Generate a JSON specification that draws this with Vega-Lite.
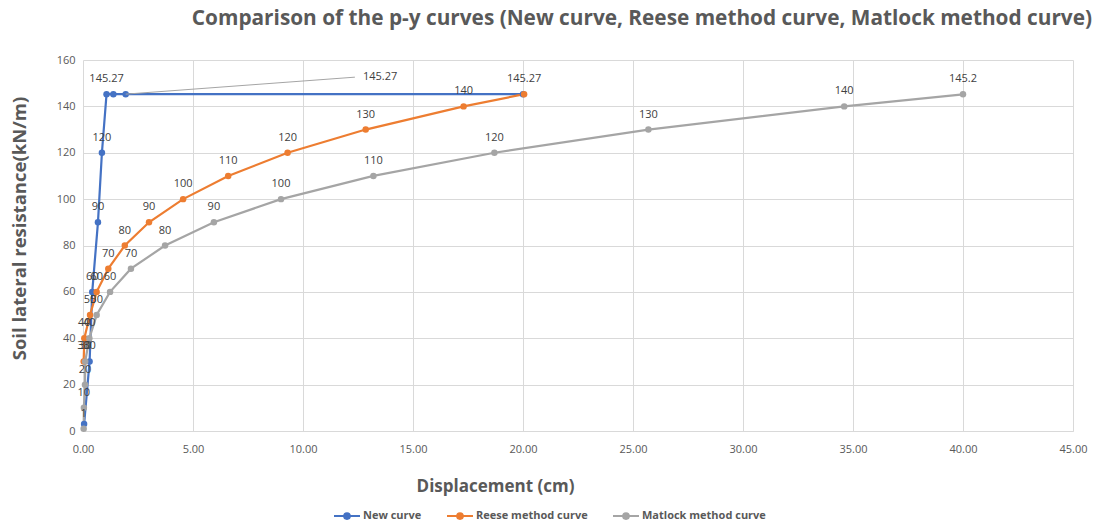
{
  "$schema": "https://vega.github.io/schema/vega-lite/v6.json",
  "autosize": {"type": "none"},
  "width": 990,
  "height": 371,
  "padding": {"left": 83, "top": 60, "right": 24, "bottom": 93},
  "background": "white",
  "title": {
    "text": "Comparison of the p-y curves (New curve, Reese method curve, Matlock method curve)",
    "font": "Open Sans",
    "fontSize": 20.8,
    "fontWeight": "bold",
    "color": "#595959",
    "anchor": "end",
    "frame": "group",
    "dx": 19,
    "offset": 24
  },
  "config": {
    "view": {"stroke": null},
    "scale": {"continuousPadding": 0},
    "axis": {
      "labelFont": "Open Sans",
      "labelFontSize": 11,
      "labelColor": "#595959",
      "labelFlush": false,
      "titleFont": "Open Sans",
      "titleFontSize": 17,
      "titleFontWeight": "bold",
      "titleColor": "#595959",
      "gridColor": "#d9d9d9",
      "ticks": false
    }
  },
  "datasets": {
    "curves": [
      {"series": "New curve", "x": 0.05, "y": 3, "label": ""},
      {"series": "New curve", "x": 0.3, "y": 30, "label": "30"},
      {"series": "New curve", "x": 0.42, "y": 60, "label": "60"},
      {"series": "New curve", "x": 0.68, "y": 90, "label": "90"},
      {"series": "New curve", "x": 0.86, "y": 120, "label": "120"},
      {"series": "New curve", "x": 1.07, "y": 145.27, "label": "145.27"},
      {"series": "New curve", "x": 1.38, "y": 145.27, "label": ""},
      {"series": "New curve", "x": 1.94, "y": 145.27, "label": ""},
      {"series": "New curve", "x": 20.0, "y": 145.27, "label": ""},
      {"series": "Reese method curve", "x": 0.03, "y": 30, "label": "30"},
      {"series": "Reese method curve", "x": 0.06, "y": 40, "label": "40"},
      {"series": "Reese method curve", "x": 0.32, "y": 50, "label": "50"},
      {"series": "Reese method curve", "x": 0.62, "y": 60, "label": "60"},
      {"series": "Reese method curve", "x": 1.15, "y": 70, "label": "70"},
      {"series": "Reese method curve", "x": 1.9, "y": 80, "label": "80"},
      {"series": "Reese method curve", "x": 3.0, "y": 90, "label": "90"},
      {"series": "Reese method curve", "x": 4.55, "y": 100, "label": "100"},
      {"series": "Reese method curve", "x": 6.6, "y": 110, "label": "110"},
      {"series": "Reese method curve", "x": 9.3, "y": 120, "label": "120"},
      {"series": "Reese method curve", "x": 12.85, "y": 130, "label": "130"},
      {"series": "Reese method curve", "x": 17.3, "y": 140, "label": "140"},
      {"series": "Reese method curve", "x": 20.05, "y": 145.27, "label": "145.27"},
      {"series": "Matlock method curve", "x": 0.03, "y": 1, "label": "1"},
      {"series": "Matlock method curve", "x": 0.04, "y": 10, "label": "10"},
      {"series": "Matlock method curve", "x": 0.09, "y": 20, "label": "20"},
      {"series": "Matlock method curve", "x": 0.1, "y": 30, "label": "30"},
      {"series": "Matlock method curve", "x": 0.29, "y": 40, "label": "40"},
      {"series": "Matlock method curve", "x": 0.62, "y": 50, "label": "50"},
      {"series": "Matlock method curve", "x": 1.23, "y": 60, "label": "60"},
      {"series": "Matlock method curve", "x": 2.18, "y": 70, "label": "70"},
      {"series": "Matlock method curve", "x": 3.73, "y": 80, "label": "80"},
      {"series": "Matlock method curve", "x": 5.95, "y": 90, "label": "90"},
      {"series": "Matlock method curve", "x": 9.0, "y": 100, "label": "100"},
      {"series": "Matlock method curve", "x": 13.2, "y": 110, "label": "110"},
      {"series": "Matlock method curve", "x": 18.7, "y": 120, "label": "120"},
      {"series": "Matlock method curve", "x": 25.7, "y": 130, "label": "130"},
      {"series": "Matlock method curve", "x": 34.6, "y": 140, "label": "140"},
      {"series": "Matlock method curve", "x": 40.0, "y": 145.2, "label": "145.2"}
    ],
    "callout": [
      {"x": 1.94, "y": 145.27, "x2": 12.36, "y2": 152.6, "label": "145.27"}
    ]
  },
  "layer": [
    {
      "data": {"name": "curves"},
      "mark": {"type": "line", "strokeWidth": 2.2, "point": {"filled": true, "size": 42}},
      "encoding": {
        "x": {
          "field": "x", "type": "quantitative",
          "scale": {"domain": [0, 45], "nice": false, "zero": true, "padding": 0},
          "axis": {"values": [0, 5, 10, 15, 20, 25, 30, 35, 40, 45], "format": ".2f", "title": "Displacement (cm)", "titleX": 412, "titlePadding": 24, "labelPadding": 12, "domainColor": "#d9d9d9"}
        },
        "y": {
          "field": "y", "type": "quantitative",
          "scale": {"domain": [0, 160], "nice": false, "padding": 0},
          "axis": {"values": [0, 20, 40, 60, 80, 100, 120, 140, 160], "title": "Soil lateral resistance(kN/m)", "titleY": 168, "titleFontSize": 18.5, "titlePadding": 27, "labelPadding": 8, "domain": false}
        },
        "color": {
          "field": "series", "type": "nominal",
          "scale": {"domain": ["New curve", "Reese method curve", "Matlock method curve"], "range": ["#4472C4", "#ED7D31", "#A5A5A5"]},
          "legend": {
            "title": null,
            "orient": "none",
            "direction": "horizontal",
            "legendX": 250,
            "legendY": 442,
            "labelFont": "Open Sans",
            "labelFontSize": 11,
            "labelFontWeight": "bold",
            "labelColor": "#595959",
            "labelOffset": 2,
            "symbolType": "M-1,0L1,0M-0.22,0A0.22,0.22 0 1,0 0.22,0A0.22,0.22 0 1,0 -0.22,0",
            "symbolSize": 676,
            "symbolStrokeWidth": 2,
            "columnPadding": 21
          }
        }
      }
    },
    {
      "data": {"name": "curves"},
      "mark": {"type": "text", "dy": -15, "font": "Open Sans", "fontSize": 11, "color": "#404040"},
      "encoding": {
        "x": {"field": "x", "type": "quantitative"},
        "y": {"field": "y", "type": "quantitative"},
        "text": {"field": "label"}
      }
    },
    {
      "data": {"name": "callout"},
      "mark": {"type": "rule", "color": "#A5A5A5", "strokeWidth": 1},
      "encoding": {
        "x": {"field": "x", "type": "quantitative"},
        "y": {"field": "y", "type": "quantitative"},
        "x2": {"field": "x2"},
        "y2": {"field": "y2"}
      }
    },
    {
      "data": {"name": "callout"},
      "mark": {"type": "text", "align": "left", "dx": 8, "font": "Open Sans", "fontSize": 11, "color": "#404040"},
      "encoding": {
        "x": {"field": "x2", "type": "quantitative"},
        "y": {"field": "y2", "type": "quantitative"},
        "text": {"field": "label"}
      }
    }
  ]
}
